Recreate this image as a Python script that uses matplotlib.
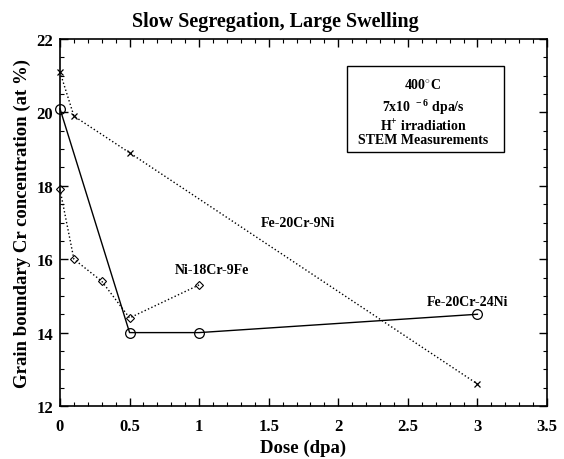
import matplotlib
matplotlib.use("Agg")
import matplotlib.pyplot as plt
from matplotlib.ticker import MultipleLocator
from matplotlib.patches import Rectangle

plt.rcParams['font.family'] = ['Liberation Serif', 'DejaVu Serif']
plt.rcParams['font.weight'] = 'bold'
plt.rcParams['mathtext.fontset'] = 'custom'
plt.rcParams['mathtext.rm'] = 'Liberation Serif:bold'
plt.rcParams['mathtext.bf'] = 'Liberation Serif:bold'

# Data
dose_9ni = [0, 0.1, 0.5, 3.0]
cr_9ni = [21.1, 19.9, 18.9, 12.6]
dose_24ni = [0, 0.5, 1.0, 3.0]
cr_24ni = [20.1, 14.0, 14.0, 14.5]
dose_ni = [0, 0.1, 0.3, 0.5, 1.0]
cr_ni = [17.9, 16.0, 15.4, 14.4, 15.3]
x_ticks = [0, 0.5, 1, 1.5, 2, 2.5, 3, 3.5]
x_tick_labels = ['0', '0.5', '1', '1.5', '2', '2.5', '3', '3.5']

W, H = 564, 460
fig = plt.figure(figsize=(W / 100, H / 100), dpi=100)
L, R, T, B = 60, 547, 40, 407
ax = fig.add_axes([L / W, (H - B) / H, (R - L) / W, (B - T) / H])

ax.plot(dose_9ni, cr_9ni, color='black', linestyle=':', linewidth=1.0,
        marker='x', markersize=5, markeredgewidth=0.9, clip_on=False)
ax.plot(dose_24ni, cr_24ni, color='black', linestyle='-', linewidth=1.0,
        marker='o', markersize=7, markerfacecolor='none', markeredgewidth=0.9, clip_on=False)
ax.plot(dose_ni, cr_ni, color='black', linestyle=':', linewidth=1.0,
        marker='D', markersize=4, markerfacecolor='none', markeredgewidth=0.8, clip_on=False)

ax.set_xlim(0, 3.5)
ax.set_ylim(12, 22)
ax.set_xticks(x_ticks)
ax.set_xticklabels(x_tick_labels)
ax.xaxis.set_minor_locator(MultipleLocator(0.1))
ax.yaxis.set_major_locator(MultipleLocator(2))
ax.yaxis.set_minor_locator(MultipleLocator(0.5))
ax.tick_params(which='both', direction='in', top=True, right=True, labelsize=12)
ax.tick_params(which='major', length=6, width=1)
ax.tick_params(which='minor', length=3, width=0.8)
ax.tick_params(axis='x', pad=9)
ax.tick_params(axis='y', pad=5)
for s in ax.spines.values():
    s.set_linewidth(1.2)

ax.set_xlabel('Dose (dpa)', fontsize=13.5, fontweight='bold', labelpad=3)
ax.set_ylabel('Grain boundary Cr concentration (at %)', fontsize=13.5, fontweight='bold', labelpad=4)
fig.text(275 / W, 1 - 22 / H, 'Slow Segregation, Large Swelling', fontsize=14.5,
         fontweight='bold', ha='center', va='center')

ax.text(1.71, 17.0, 'Fe-20Cr-9Ni', fontsize=10, fontweight='bold', ha='center', va='center')
ax.text(1.09, 15.72, 'Ni-18Cr-9Fe', fontsize=10, fontweight='bold', ha='center', va='center')
ax.text(2.93, 14.85, 'Fe-20Cr-24Ni', fontsize=10, fontweight='bold', ha='center', va='center')

# annotation box (axes fraction)
bx0, bx1 = (347 - L) / (R - L), (504 - L) / (R - L)
by0, by1 = (B - 153) / (B - T), (B - 67) / (B - T)
ax.add_patch(Rectangle((bx0, by0), bx1 - bx0, by1 - by0, transform=ax.transAxes,
                       facecolor='white', edgecolor='black', linewidth=1.0, zorder=5))
cx = (423 - L) / (R - L)
lines = ['400$^{\\circ}$C', '7x10$^{\\ -6}$ dpa/s', 'H$^{+}$ irradiation', 'STEM Measurements']
ys = [86, 107, 126, 141]
for txt, yp in zip(lines, ys):
    ax.text(cx, (B - yp) / (B - T), txt, transform=ax.transAxes, fontsize=10,
            fontweight='bold', ha='center', va='center', zorder=6)

fig.savefig('out.png', dpi=100)
